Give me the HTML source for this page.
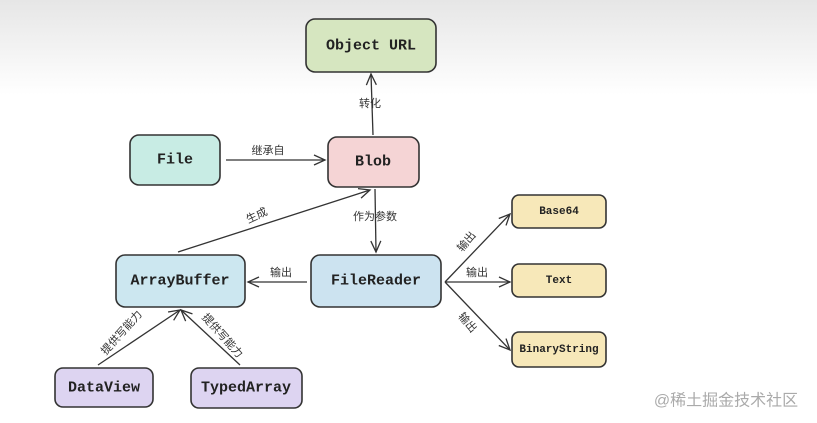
<!DOCTYPE html>
<html><head><meta charset="utf-8"><style>
html,body{margin:0;padding:0;width:817px;height:423px;overflow:hidden;background:#fff}
svg{display:block}
.n{font-family:"Liberation Mono","DejaVu Sans Mono",monospace;font-weight:bold;fill:#222;text-anchor:middle;dominant-baseline:central}
.l{font-family:"Liberation Sans","Noto Sans CJK SC",sans-serif;font-size:11px;fill:#333;text-anchor:middle;dominant-baseline:central}
.b{stroke:#333;stroke-width:1.6}
.a{stroke:#333;stroke-width:1.3;fill:none}
</style></head><body>
<svg width="817" height="423" viewBox="0 0 817 423">
<defs>
<linearGradient id="bg" x1="0" y1="0" x2="0" y2="1">
<stop offset="0" stop-color="#e6e6e6"/><stop offset="1" stop-color="#fff"/></linearGradient>
<marker id="m" markerWidth="14" markerHeight="14" refX="12" refY="7" orient="auto" markerUnits="userSpaceOnUse">
<path d="M1,2 L12,7 L1,12" fill="none" stroke="#333" stroke-width="1.3"/></marker>
</defs>
<rect x="0" y="0" width="817" height="95" fill="url(#bg)"/>
<!-- boxes -->
<rect class="b" x="306" y="19" width="130" height="53" rx="9" fill="#d6e6c0"/>
<text class="n" x="371" y="46" font-size="15">Object URL</text>
<rect class="b" x="130" y="135" width="90" height="50" rx="9" fill="#c8ece4"/>
<text class="n" x="175" y="160" font-size="15">File</text>
<rect class="b" x="328" y="137" width="91" height="50" rx="9" fill="#f5d4d5"/>
<text class="n" x="373" y="162" font-size="15">Blob</text>
<rect class="b" x="116" y="255" width="129" height="52" rx="9" fill="#cce7f0"/>
<text class="n" x="180" y="281" font-size="15">ArrayBuffer</text>
<rect class="b" x="311" y="255" width="130" height="52" rx="9" fill="#cce3f0"/>
<text class="n" x="376" y="281" font-size="15">FileReader</text>
<rect class="b" x="512" y="195" width="94" height="33" rx="7" fill="#f7e8b9"/>
<text class="n" x="559" y="212" font-size="11">Base64</text>
<rect class="b" x="512" y="264" width="94" height="33" rx="7" fill="#f7e8b9"/>
<text class="n" x="559" y="281" font-size="11">Text</text>
<rect class="b" x="512" y="332" width="94" height="35" rx="7" fill="#f7e8b9"/>
<text class="n" x="559" y="350" font-size="11">BinaryString</text>
<rect class="b" x="55" y="368" width="98" height="39" rx="8" fill="#ddd4f1"/>
<text class="n" x="104" y="388" font-size="15">DataView</text>
<rect class="b" x="191" y="368" width="111" height="40" rx="8" fill="#ddd4f1"/>
<text class="n" x="246" y="388" font-size="15">TypedArray</text>
<!-- arrows -->
<line class="a" x1="373" y1="135" x2="371" y2="74" marker-end="url(#m)"/>
<text class="l" x="370" y="104">转化</text>
<line class="a" x1="226" y1="160" x2="325" y2="160" marker-end="url(#m)"/>
<text class="l" x="268" y="151">继承自</text>
<line class="a" x1="375" y1="189" x2="376" y2="252" marker-end="url(#m)"/>
<text class="l" x="375" y="217">作为参数</text>
<line class="a" x1="178" y1="252" x2="370" y2="190" marker-end="url(#m)"/>
<text class="l" x="257" y="216" transform="rotate(-25 257 216)">生成</text>
<line class="a" x1="307" y1="282" x2="248" y2="282" marker-end="url(#m)"/>
<text class="l" x="281" y="273">输出</text>
<line class="a" x1="445" y1="282" x2="510" y2="214" marker-end="url(#m)"/>
<text class="l" x="467" y="242" transform="rotate(-50 467 242)">输出</text>
<line class="a" x1="445" y1="282" x2="510" y2="282" marker-end="url(#m)"/>
<text class="l" x="477" y="273">输出</text>
<line class="a" x1="445" y1="282" x2="510" y2="350" marker-end="url(#m)"/>
<text class="l" x="467" y="323" transform="rotate(50 467 323)">输出</text>
<line class="a" x1="98" y1="365" x2="180" y2="310" marker-end="url(#m)"/>
<text class="l" x="122" y="333" transform="rotate(-48 122 333)">提供写能力</text>
<line class="a" x1="240" y1="365" x2="181" y2="310" marker-end="url(#m)"/>
<text class="l" x="222" y="336" transform="rotate(48 222 336)">提供写能力</text>
<text x="726" y="401" font-family="'Liberation Sans','Noto Sans CJK SC',sans-serif" font-size="16" fill="#aaa" text-anchor="middle" dominant-baseline="central">@稀土掘金技术社区</text>
</svg>
</body></html>
